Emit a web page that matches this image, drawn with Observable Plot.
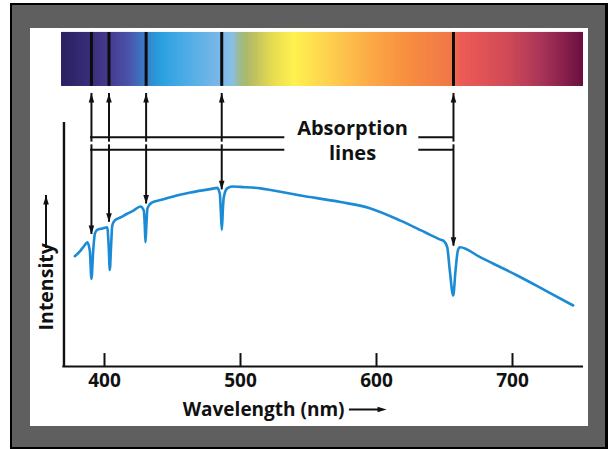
<!DOCTYPE html>
<html>
<head>
<meta charset="utf-8">
<script src="https://cdn.jsdelivr.net/npm/d3@7"></script>
<script src="https://cdn.jsdelivr.net/npm/@observablehq/plot@0.6"></script>
<style>
  html, body { margin: 0; padding: 0; background: #fff; }
  #wrap { position: relative; width: 608px; height: 449px; overflow: hidden; background: #fff; }
  .blk { position: absolute; }
  #chart { position: absolute; left: 0; top: 0; }
</style>
</head>
<body>
<div id="wrap">
  <div class="blk" style="left:10px;top:3px;width:598px;height:446px;background:#000"></div>
  <div class="blk" style="left:12px;top:5px;width:593px;height:442px;background:#5f5f5f"></div>
  <div class="blk" style="left:30px;top:28px;width:558px;height:398px;background:#fff"></div>
  <div id="chart"></div>
</div>
<script>
// ---- data ----
const wavelength = [378.2, 382.4, 385.3, 387.3, 389.2, 390.4, 391.7, 392.9, 394.6, 398.5,
  402.0, 403.1, 403.9, 404.8, 405.7, 407.4, 411.8, 416.7, 421.3, 426.5,
  428.9, 429.6, 430.1, 430.8, 431.6, 435.1, 441.2, 448.5, 463.2, 477.9,
  482.9, 484.8, 485.5, 486.3, 487.0, 487.7, 490.2, 493.9, 500, 514.7,
  522.1, 544.1, 573.5, 595.6, 617.6, 636, 647, 649.5, 652, 653.9,
  656.4, 658.1, 659.8, 661.3, 676.5, 703.5, 724.3, 744.6];
const intensity = [0.452, 0.475, 0.496, 0.509, 0.475, 0.359, 0.475, 0.544, 0.560, 0.566,
  0.571, 0.49, 0.396, 0.49, 0.578, 0.598, 0.611, 0.626, 0.639, 0.656,
  0.639, 0.58, 0.509, 0.58, 0.648, 0.673, 0.682, 0.694, 0.713, 0.727,
  0.732, 0.708, 0.64, 0.560, 0.64, 0.694, 0.730, 0.738, 0.736, 0.730,
  0.723, 0.701, 0.674, 0.648, 0.598, 0.549, 0.520, 0.514, 0.489, 0.393,
  0.291, 0.393, 0.475, 0.489, 0.447, 0.373, 0.311, 0.250];
const lineWavelengths = [390.4, 403.3, 430.6, 486.2, 656.6];
const arrowTipIntensity = [0.541, 0.591, 0.666, 0.724, 0.493];
const xTicks = [400, 500, 600, 700];
const spectrumStops = [368.4, 390.4, 402.9, 418.4, 428.7, 441.2, 464, 484.6, 494.1, 499.5,
  504.4, 512, 524, 539.7, 565.4, 590.4, 621.3, 654.4, 661.8, 697.1, 722.8, 752.2];
const spectrumColors = ["#2a2262", "#3a2f7a", "#463a8e", "#4a55aa", "#3d78c4", "#28a0e0", "#55aee6", "#7ab8e8", "#88bfe6", "#9cbb96",
  "#abb96c", "#c4c45e", "#e6dc52", "#fff150", "#fed050", "#fcb048", "#f89040", "#f07848", "#ee5c55", "#d04a58", "#a83458", "#6a1040"];
const xLabel = "Wavelength (nm)";
const yLabel = "Intensity";
const noteLines = ["Absorption", "lines"];

// ---- layout (in data units) ----
const specBottom = 1.148, specTop = 1.369;
const upTip = 1.119, upBracket = 0.940, downBracket = 0.888;
const leftBracketEnd = 532.6, rightBracketStart = 631.1;
const axisX0 = 370.2, axisX1 = 752.2;

const curve = wavelength.map((w, i) => ({w, v: intensity[i]}));
const colorAt = d3.scaleLinear().domain(spectrumStops).range(spectrumColors).interpolate(d3.interpolateRgb);
const specEnd = spectrumStops[spectrumStops.length - 1];
const cells = d3.range(spectrumStops[0], specEnd, 0.5)
  .map(w => ({w1: w, w2: Math.min(w + 1.2, specEnd), c: colorAt(w + 0.25)}));
const arrows = lineWavelengths.map((w, i) => ({w, tip: arrowTipIntensity[i]}));

const tri = (p) => ({draw(ctx) { ctx.moveTo(p[0][0], p[0][1]); ctx.lineTo(p[1][0], p[1][1]); ctx.lineTo(p[2][0], p[2][1]); ctx.closePath(); }});
const headUp = tri([[0, 0], [-2.8, 9], [2.8, 9]]);
const headDown = tri([[0, 0], [-2.8, -9], [2.8, -9]]);
const headRight = tri([[0, 0], [-9, -2.8], [-9, 2.8]]);

const font = {fontFamily: "Open Sans", fontWeight: 700, fill: "#111"};
const ink = "#111";

const chart = Plot.plot({
  width: 608,
  height: 449,
  style: {background: "transparent", overflow: "visible"},
  x: {domain: [368, 752.5], range: [60.48, 583.4], axis: null},
  y: {domain: [0, 1], range: [366, 122], axis: null},
  color: {type: "identity"},
  marks: [
    // spectrum strip
    Plot.rect(cells, {x1: "w1", x2: "w2", y1: specBottom, y2: specTop, fill: "c", shapeRendering: "geometricPrecision"}),
    Plot.ruleX(lineWavelengths, {x: d => d, y1: specBottom, y2: specTop, stroke: "#0c0c0c", strokeWidth: 3}),
    // up arrows
    Plot.ruleX(lineWavelengths, {x: d => d, y1: upBracket, y2: upTip, insetTop: 5, stroke: ink, strokeWidth: 2}),
    Plot.dot(lineWavelengths, {x: d => d, y: upTip, symbol: headUp, fill: ink}),
    // down arrows
    Plot.ruleX(arrows, {x: "w", y1: "tip", y2: downBracket, insetBottom: 5, stroke: ink, strokeWidth: 2}),
    Plot.dot(arrows, {x: "w", y: "tip", symbol: headDown, fill: ink}),
    // brackets
    Plot.ruleY([upBracket, downBracket], {y: d => d, x1: lineWavelengths[0] - 0.7, x2: leftBracketEnd, stroke: ink, strokeWidth: 2}),
    Plot.ruleY([upBracket, downBracket], {y: d => d, x1: rightBracketStart, x2: lineWavelengths[4] + 0.7, stroke: ink, strokeWidth: 2}),
    // note text
    Plot.text([noteLines[0]], {x: 582.4, y: 0.947, text: d => d, textAnchor: "middle", lineAnchor: "bottom", fontSize: 20, ...font}),
    Plot.text([noteLines[1]], {x: 582.4, y: 0.846, text: d => d, textAnchor: "middle", lineAnchor: "bottom", fontSize: 20, ...font}),
    // axes
    Plot.ruleY([0], {x1: axisX0 - 0.8, x2: axisX1, stroke: ink, strokeWidth: 2.2}),
    Plot.ruleX([axisX0], {y1: -0.004, y2: 1.0, stroke: ink, strokeWidth: 2.4}),
    Plot.ruleX(xTicks, {x: d => d, y1: 0, y2: 0.053, stroke: ink, strokeWidth: 2}),
    Plot.text(xTicks, {x: d => d, y: 0, dy: 20.7, text: d => String(d), lineAnchor: "bottom", fontSize: 19, ...font}),
    // axis labels
    Plot.text([xLabel], {x: 576.5, y: -0.201, text: d => d, textAnchor: "end", lineAnchor: "bottom", fontSize: 19, ...font}),
    Plot.ruleY([-0.176], {y: d => d, x1: 580.1, x2: 607.4, insetRight: 5, stroke: ink, strokeWidth: 2}),
    Plot.dot([607.4], {x: d => d, y: -0.176, symbol: headRight, fill: ink}),
    Plot.text([yLabel], {x: 357.6, y: 0.148, text: d => d, rotate: -90, textAnchor: "start", lineAnchor: "middle", fontSize: 19.5, ...font}),
    Plot.ruleX([357.0], {x: d => d, y1: 0.504, y2: 0.701, insetTop: 5, stroke: ink, strokeWidth: 2}),
    Plot.dot([357.0], {x: d => d, y: 0.701, symbol: headUp, fill: ink}),
    // spectrum curve
    Plot.line(curve, {x: "w", y: "v", curve: "monotone-x", stroke: "#1b8bd6", strokeWidth: 2.6, strokeLinejoin: "round", strokeLinecap: "round"})
  ]
});
document.getElementById("chart").appendChild(chart);
</script>
</body>
</html>
